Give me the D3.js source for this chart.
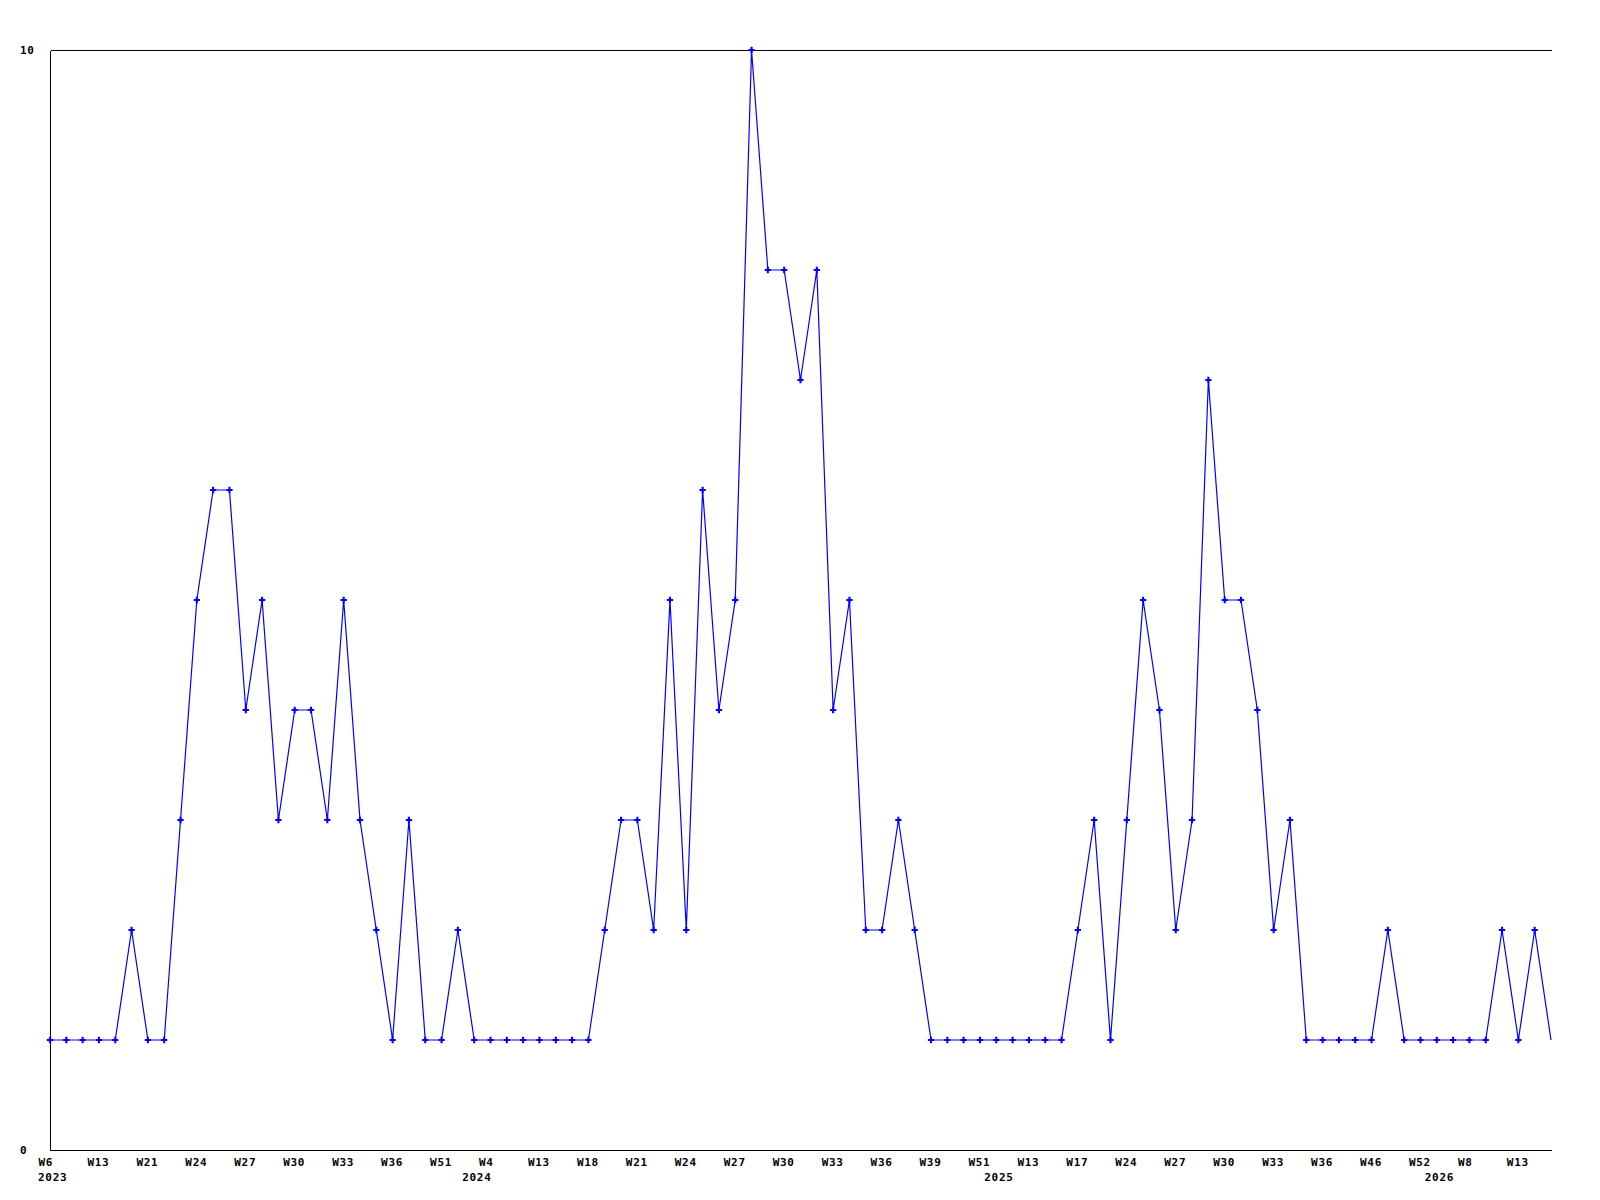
<!DOCTYPE html>
<html>
<head>
<meta charset="utf-8">
<script src="https://cdn.jsdelivr.net/npm/d3@7"></script>
<style>
  html, body { margin: 0; padding: 0; background: #fff; }
  svg text { font-family: "DejaVu Sans Mono", "Liberation Mono", monospace; font-weight: bold; font-size: 11px; letter-spacing: 0.7px; fill: #000; }
</style>
</head>
<body>
<svg id="chart" width="1600" height="1200"></svg>
<script>
// weekly counts, one per data point
const values = [
  1, 1, 1, 1, 1, 2, 1, 1, 3, 5,
  6, 6, 4, 5, 3, 4, 4, 3, 5, 3,
  2, 1, 3, 1, 1, 2, 1, 1, 1, 1,
  1, 1, 1, 1, 2, 3, 3, 2, 5, 2,
  6, 4, 5, 10, 8, 8, 7, 8, 4, 5,
  2, 2, 3, 2, 1, 1, 1, 1, 1, 1,
  1, 1, 1, 2, 3, 1, 3, 5, 4, 2,
  3, 7, 5, 5, 4, 2, 3, 1, 1, 1,
  1, 1, 2, 1, 1, 1, 1, 1, 1, 2,
  1, 2, 1
];

// week label shown under every third point
const weekLabels = [
  'W6', 'W13', 'W21', 'W24', 'W27', 'W30', 'W33', 'W36', 'W51', 'W4',
  'W13', 'W18', 'W21', 'W24', 'W27', 'W30', 'W33', 'W36', 'W39', 'W51',
  'W13', 'W17', 'W24', 'W27', 'W30', 'W33', 'W36', 'W46', 'W52', 'W8',
  'W13'
];
const labelStep = 3;

// first point of each year
const years = ['2023', '2024', '2025', '2026'];
const yearStart = [0, 26, 58, 85];

const yTicks = [0, 10];

const svg = d3.select('#chart');
const plotLeft = 50, plotRight = 1551, plotTop = 50, plotBottom = 1150;

const x = d3.scaleLinear().domain([0, values.length - 1]).range([plotLeft, plotRight]);
const y = d3.scaleLinear().domain([0, 10]).range([plotBottom, plotTop]);

// frame: left, bottom and top lines
const yAxis = svg.append('g')
  .attr('transform', `translate(${plotLeft},0)`)
  .call(d3.axisLeft(y).tickValues(yTicks).tickSize(0).tickFormat(d3.format('d')));
yAxis.select('.domain').attr('stroke', '#000').attr('shape-rendering', 'crispEdges');
yAxis.selectAll('text')
  .attr('x', -30)
  .attr('dy', '0.32em')
  .attr('text-anchor', 'start');
yAxis.attr('font-family', null).attr('font-size', null);

const tickIdx = weekLabels.map((_, i) => i * labelStep);
const xAxis = svg.append('g')
  .attr('transform', `translate(0,${plotBottom})`)
  .call(d3.axisBottom(x).tickValues(tickIdx).tickSize(0)
    .tickFormat((d, i) => weekLabels[i]));
xAxis.select('.domain').attr('stroke', '#000').attr('shape-rendering', 'crispEdges');
xAxis.selectAll('text')
  .attr('y', 16)
  .attr('dy', 0)
  .attr('dx', -12)
  .attr('text-anchor', 'start');
xAxis.attr('font-family', null).attr('font-size', null);

const topAxis = svg.append('g')
  .attr('transform', `translate(0,${plotTop})`)
  .call(d3.axisTop(x).tickValues([]).tickSizeOuter(0));
topAxis.select('.domain').attr('stroke', '#000').attr('shape-rendering', 'crispEdges');

svg.append('g')
  .selectAll('text')
  .data(years)
  .join('text')
  .attr('x', (d, i) => x(yearStart[i]) - 12)
  .attr('y', plotBottom + 31)
  .text(d => d);

// series line
const line = d3.line()
  .x((d, i) => x(i))
  .y(d => y(d));

svg.append('path')
  .datum(values)
  .attr('d', line)
  .attr('fill', 'none')
  .attr('stroke', '#0000ff')
  .attr('stroke-width', 1.2);

// point markers (last point has none)
const marker = d3.symbol().type(d3.symbolCross).size(22);
svg.append('g')
  .selectAll('path')
  .data(values.slice(0, -1))
  .join('path')
  .attr('transform', (d, i) => `translate(${x(i)},${y(d)})`)
  .attr('d', marker)
  .attr('fill', '#0000ff');
</script>
</body>
</html>
